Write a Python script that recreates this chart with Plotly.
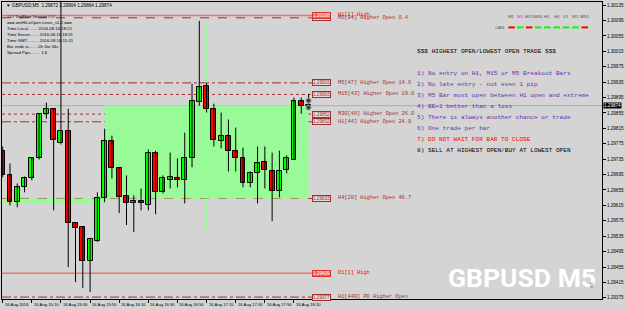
import plotly.graph_objects as go

# ---------------- data ----------------
opens  = [1.29757,1.29693,1.29623,1.29664,1.29685,1.29737,1.29851,1.29864,1.29776,1.29807,
          1.29569,1.29558,1.29470,1.29522,1.29633,1.29781,1.29711,1.29639,1.29620,1.29626,
          1.29615,1.29750,1.29649,1.29682,1.29685,1.29680,1.29737,1.29884,1.29926,1.29866,
          1.29783,1.29794,1.29755,1.29739,1.29672,1.29698,1.29727,1.29703,1.29652,1.29708,
          1.29734,1.29887,1.29872]
highs  = [1.29768,1.29724,1.29672,1.29690,1.29739,1.29853,1.29882,1.29866,1.30190,1.29866,
          1.29569,1.29560,1.29527,1.29649,1.29814,1.29796,1.29711,1.29693,1.29641,1.29659,
          1.29760,1.29757,1.29693,1.29752,1.29737,1.29804,1.29931,1.30094,1.29933,1.29879,
          1.29856,1.29838,1.29817,1.29765,1.29703,1.29768,1.29768,1.29752,1.29757,1.29745,
          1.29895,1.29895,1.29904]
lows   = [1.29688,1.29615,1.29610,1.29649,1.29680,1.29734,1.29840,1.29602,1.29773,1.29455,
          1.29416,1.29401,1.29390,1.29520,1.29623,1.29685,1.29595,1.29564,1.29546,1.29602,
          1.29602,1.29592,1.29646,1.29659,1.29662,1.29620,1.29714,1.29874,1.29856,1.29768,
          1.29763,1.29703,1.29703,1.29662,1.29662,1.29620,1.29659,1.29574,1.29636,1.29698,
          1.29734,1.29853,1.29864]
closes = [1.29693,1.29623,1.29662,1.29685,1.29737,1.29851,1.29864,1.29786,1.29807,1.29569,
          1.29556,1.29470,1.29527,1.29633,1.29783,1.29711,1.29636,1.29620,1.29626,1.29620,
          1.29750,1.29649,1.29685,1.29688,1.29682,1.29739,1.29887,1.29923,1.29866,1.29786,
          1.29794,1.29755,1.29737,1.29672,1.29698,1.29724,1.29706,1.29652,1.29703,1.29737,
          1.29887,1.29872,1.29874]
bar_idx = list(range(len(opens)))

tick_idx    = [0, 4, 8, 12, 16, 20, 24, 28, 32, 36, 40]
tick_labels = ["16 Aug 2016", "16 Aug 15:10", "16 Aug 15:30", "16 Aug 15:50", "16 Aug 16:10",
               "16 Aug 16:30", "16 Aug 16:50", "16 Aug 17:10", "16 Aug 17:30", "16 Aug 17:50",
               "16 Aug 18:10"]
price_ticks = [1.29375 + 0.0004 * k for k in range(20)]
current_price = 1.29874

# H4 candles (start index, end index, open, close, high, low)
h4_start = [-34, 14]
h4_end   = [14, 42]
h4_open  = [1.29620, 1.29633]
h4_close = [1.29633, 1.29874]
h4_high  = [None, 1.30094]
h4_low   = [None, 1.29546]

# Levels
level_prices = [1.30102, 1.29933, 1.29903, 1.29852, 1.29832, 1.29633, 1.29377]
level_names  = ["M5[94] Higher Open 0.4", "M5[47] Higher Open 14.6", "M15[43] Higher Open 19.0",
                "M30[46] Higher Open 26.0", "H1[44] Higher Open 24.9", "H4[20] Higher Open 46.7",
                "H1[440] PD Higher Open"]
level_dash   = ["dash", "dashdot", "dot", "dot", "dashdot", "dash", "dashdot"]
high_prices  = [1.30108, 1.29439]
high_names   = ["W1[1] High", "D1[1] High"]

rules = ["$$$ HIGHEST OPEN/LOWEST OPEN TRADE $$$",
         "1) No entry on H1, M15 or M5 Breakout Bars",
         "2) No late entry - not even 1 pip",
         "3) M5 Bar must open between H1 open and extreme",
         "4) BE+1 better than a loss",
         "5) There is always another chance or trade",
         "6) One trade per bar",
         "7) DO NOT WAIT FOR BAR TO CLOSE",
         "8) SELL AT HIGHEST OPEN/BUY AT LOWEST OPEN"]
rule_colors = ["#000000"] + ["#6B2FA6"] * 6 + ["#FF0000", "#000000"]

info_lines = ["### TopFlow Version ###",
              "=== amHiLoOpen Lines_v1.2 ===",
              "Time Local........ 2016.08.16 18:21",
              "Time Server....... 2016.08.16 18:21",
              "Time GMT.......... 2016.08.16 15:21",
              "Bar ends in....... 0h 3m 34s",
              "Spread Pips........ 1.6"]
header = "\u25BC GBPUSD,M5  1.29872 1.29904 1.29864 1.29874"

tf_labels  = ["M1", "M5", "M15", "M30", "H1", "H4", "D1", "W1", "MN1"]
can_colors = ["#FF0000", "#00FF00", "#FF0000", "#00FF00", "#00FF00", "#00FF00", "#00FF00", "#00FF00", "#FF0000"]

# ---------------- layout geometry ----------------
W, H = 625, 310
ML, MR, MT, MB = 1, 20, 1, 11
PW, PH = W - ML - MR, H - MT - MB
def px(x):  # pixel -> paper x
    return (x - ML) / PW
def py(y):  # pixel -> paper y
    return 1 - (y - MT) / PH

BG = "#D4D4D4"
LVL = "#A0302A"
MONO = "Liberation Mono"
SANS = "Liberation Sans"

fig = go.Figure()

# wicks
wx, wy = [], []
for i in bar_idx:
    wx += [i, i, None]
    wy += [lows[i], highs[i], None]
fig.add_trace(go.Scatter(x=wx, y=wy, mode="lines", line=dict(color="black", width=1),
                         hoverinfo="skip", showlegend=False))
# bodies
body_base = [min(o, c) for o, c in zip(opens, closes)]
body_h = [max(abs(c - o), 0.00003) for o, c in zip(opens, closes)]
body_col = ["#00FF00" if c >= o else "#FF0000" for o, c in zip(opens, closes)]
fig.add_trace(go.Bar(x=bar_idx, y=body_h, base=body_base, width=0.68,
                     marker=dict(color=body_col, line=dict(color="black", width=1)),
                     showlegend=False, hoverinfo="skip"))

shapes = []
# H4 candles
for s, e, o, c, hh, ll in zip(h4_start, h4_end, h4_open, h4_close, h4_high, h4_low):
    shapes.append(dict(type="rect", xref="x", yref="y", x0=s, x1=e, y0=o, y1=c,
                       fillcolor="#98FB98", line=dict(width=0), layer="below"))
    if hh is not None:
        mid = (s + e) / 2
        shapes.append(dict(type="line", xref="x", yref="y", x0=mid, x1=mid, y0=ll, y1=hh,
                           line=dict(color="#98FB98", width=1), layer="below"))

# current price line
shapes.append(dict(type="line", xref="paper", yref="y", x0=0, x1=1, y0=current_price, y1=current_price,
                   line=dict(color="#A8AEBC", width=1), layer="below"))

annotations = []
box_x = px(323)
txt_x = px(337)
for p, name, d in zip(level_prices, level_names, level_dash):
    shapes.append(dict(type="line", xref="paper", yref="y", x0=0, x1=px(313), y0=p, y1=p,
                       line=dict(color=LVL, width=1, dash=d), layer="below"))
    annotations.append(dict(xref="paper", yref="y", x=box_x, y=p, text=f"{p:.5f}", showarrow=False,
                            font=dict(family=SANS, size=4.6, color=LVL), bgcolor="#E4DADA",
                            bordercolor=LVL, borderwidth=1, borderpad=0))
    annotations.append(dict(xref="paper", yref="y", x=txt_x, y=p, text=name, showarrow=False,
                            xanchor="left", font=dict(family=MONO, size=5.3, color=LVL)))
for p, name in zip(high_prices, high_names):
    shapes.append(dict(type="line", xref="paper", yref="y", x0=0, x1=px(313), y0=p, y1=p,
                       line=dict(color="#F07070", width=1.5), layer="below"))
    annotations.append(dict(xref="paper", yref="y", x=box_x, y=p, text=f"{p:.5f}", showarrow=False,
                            font=dict(family=SANS, size=4.6, color="#FFFFFF"), bgcolor="#F06060",
                            bordercolor="#E03030", borderwidth=1, borderpad=0))
    annotations.append(dict(xref="paper", yref="y", x=txt_x, y=p, text=name, showarrow=False,
                            xanchor="left", font=dict(family=MONO, size=5.3, color="#FF0000")))

# rules text
rule_y = [51, 73, 84, 95, 106, 117, 128, 139, 150]
for t, c, yy in zip(rules, rule_colors, rule_y):
    annotations.append(dict(xref="paper", yref="paper", x=px(417), y=py(yy), text=t, showarrow=False,
                            xanchor="left", yanchor="middle", font=dict(family=MONO, size=6.1, color=c)))

# info text top-left
annotations.append(dict(xref="paper", yref="paper", x=px(3), y=py(5), text=header, showarrow=False,
                        xanchor="left", yanchor="middle", font=dict(family=SANS, size=4.6, color="black")))
for k, t in enumerate(info_lines):
    annotations.append(dict(xref="paper", yref="paper", x=px(4), y=py(16 + 6 * k), text=t, showarrow=False,
                            xanchor="left", yanchor="middle", font=dict(family=SANS, size=4.3, color="black")))

# timeframe labels + CAN row
tf_x = [514, 522.7, 531.7, 540.7, 550, 559.3, 568.7, 578.3, 587.7]
for t, xx, c in zip(tf_labels, tf_x, can_colors):
    annotations.append(dict(xref="paper", yref="paper", x=px(xx), y=py(16), text=t, showarrow=False,
                            xanchor="center", yanchor="middle",
                            font=dict(family=SANS, size=4.3, color="#FF00FF" if t == "M5" else "#505050")))
    shapes.append(dict(type="line", xref="paper", yref="paper", x0=px(xx - 3.3), x1=px(xx + 3.3),
                       y0=py(26.5), y1=py(26.5), line=dict(color=c, width=2)))
annotations.append(dict(xref="paper", yref="paper", x=px(508), y=py(26.5), text="CAN", showarrow=False,
                        xanchor="right", yanchor="middle", font=dict(family=SANS, size=4.3, color="#505050")))

# date labels
for i, t in zip(tick_idx, tick_labels):
    annotations.append(dict(xref="x", yref="paper", x=i, y=py(305), text=t, showarrow=False,
                            xanchor="left", yanchor="middle", xshift=0,
                            font=dict(family=SANS, size=4.2, color="black")))

# current price box on axis
annotations.append(dict(xref="paper", yref="y", x=1, y=current_price, text=f"{current_price:.5f}",
                        showarrow=False, xanchor="left", xshift=1,
                        font=dict(family=SANS, size=4.6, color="white"), bgcolor="black", borderpad=0))

# big symbol text
annotations.append(dict(xref="paper", yref="paper", x=px(524), y=py(277), text="GBPUSD M5",
                        showarrow=False, xanchor="center", yanchor="middle",
                        font=dict(family="Roboto", weight=700, size=26.5, color="white")))
annotations.append(dict(xref="paper", yref="paper", x=px(598), y=py(290), text="M5", showarrow=False,
                        textangle=-90, font=dict(family=SANS, size=4, color="#606060")))

# small trade icons
fig.add_trace(go.Scatter(x=[42, 42], y=[1.29887, 1.29869], mode="markers",
                         marker=dict(symbol="circle", size=5, color="#404040", line=dict(color="#A0A0A0", width=1)),
                         showlegend=False, hoverinfo="skip"))

fig.update_layout(
    width=W, height=H, margin=dict(l=ML, r=MR, t=MT, b=MB),
    paper_bgcolor=BG, plot_bgcolor=BG, showlegend=False, bargap=0,
    shapes=shapes, annotations=annotations,
    xaxis=dict(range=[-0.095, 82.3], showgrid=False, zeroline=False, tickvals=tick_idx,
               showticklabels=False, ticks="outside", ticklen=3, tickcolor="black",
               showline=True, linecolor="black", linewidth=1, mirror=True),
    yaxis=dict(range=[1.29372, 1.30143], side="right", showgrid=False, zeroline=False,
               tickvals=price_ticks, ticktext=[f"{v:.5f}" for v in price_ticks],
               ticks="outside", ticklen=3, tickcolor="black",
               tickfont=dict(family=SANS, size=4.6, color="black"),
               showline=True, linecolor="black", linewidth=1, mirror=True),
)

fig.write_html("out.html")
